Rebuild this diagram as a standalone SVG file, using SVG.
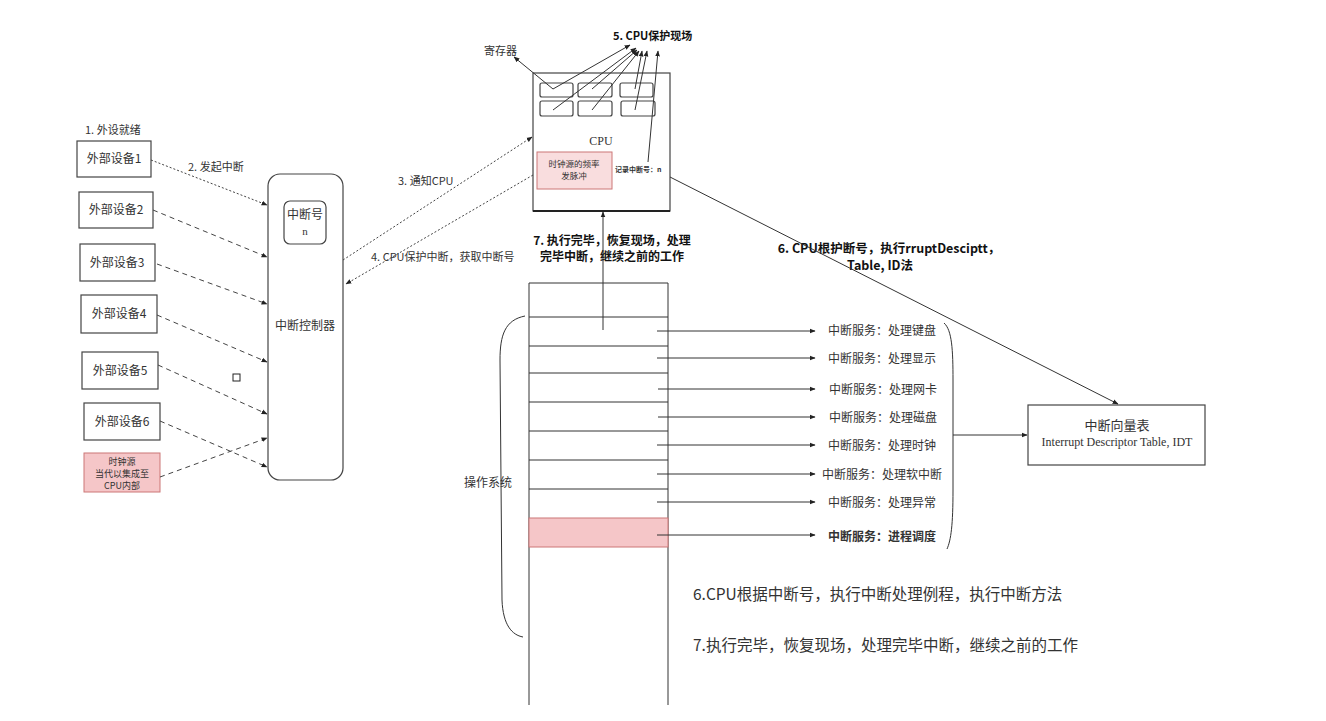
<svg xmlns="http://www.w3.org/2000/svg" width="1326" height="721" viewBox="0 0 1326 721">
<style>
text{font-family:"Noto Sans CJK SC","Liberation Sans",sans-serif;fill:#333;}
text.serif{font-family:"Liberation Serif","Noto Sans CJK SC",serif;}
.box{fill:#fff;stroke:#444;stroke-width:1.2;}
.pink{fill:#f5c6c8;stroke:#c77;stroke-width:1;}
.ln{fill:none;stroke:#333;stroke-width:1;}
.dot{fill:none;stroke:#444;stroke-width:1;stroke-dasharray:2,2;}
.dash{fill:none;stroke:#444;stroke-width:1;stroke-dasharray:5,4;}
.t12{font-size:12px;}
.t11{font-size:11px;}
.b{font-weight:bold;fill:#111;}
</style>
<defs>
<marker id="ah" viewBox="0 0 10 10" refX="9" refY="5" markerWidth="6" markerHeight="6" orient="auto"><path d="M0,1 L10,5 L0,9 z" fill="#222"/></marker>
</defs>
<rect width="1326" height="721" fill="#fff"/>

<g id="step1"><text x="85" y="134" class="t11">1. 外设就绪</text></g>
<g id="dev1"><rect class="box" x="77" y="141" width="74" height="36"/><text x="114" y="163" class="t12" text-anchor="middle">外部设备1</text></g>
<g id="dev2"><rect class="box" x="79" y="192" width="74" height="36"/><text x="116" y="214" class="t12" text-anchor="middle">外部设备2</text></g>
<g id="dev3"><rect class="box" x="80" y="244" width="75" height="37"/><text x="117" y="267" class="t12" text-anchor="middle">外部设备3</text></g>
<g id="dev4"><rect class="box" x="81" y="295" width="76" height="38"/><text x="119" y="318" class="t12" text-anchor="middle">外部设备4</text></g>
<g id="dev5"><rect class="box" x="82" y="352" width="76" height="37"/><text x="120" y="375" class="t12" text-anchor="middle">外部设备5</text></g>
<g id="dev6"><rect class="box" x="84" y="403" width="76" height="37"/><text x="122" y="426" class="t12" text-anchor="middle">外部设备6</text></g>
<g id="clock"><rect class="pink" x="84" y="453" width="76" height="39"/>
<text x="122" y="465" font-size="9" text-anchor="middle">时钟源</text>
<text x="122" y="477" font-size="9" text-anchor="middle">当代以集成至</text>
<text x="122" y="489" font-size="9" text-anchor="middle">CPU内部</text></g>
<g id="smallsq"><rect x="233" y="374" width="7" height="7" fill="none" stroke="#222" stroke-width="1"/></g>

<g id="controller">
<rect class="box" x="268" y="174" width="75" height="306" rx="12"/>
<rect class="box" x="284" y="201" width="42" height="43" rx="6"/>
<text x="305" y="219" class="t12" text-anchor="middle">中断号</text>
<text x="305" y="235" font-size="11" class="serif" text-anchor="middle">n</text>
<text x="305" y="330" class="t12" text-anchor="middle">中断控制器</text>
</g>

<g id="cpu">
<rect class="box" x="533" y="73" width="137" height="138"/>
<line x1="533" y1="211" x2="670" y2="211" stroke="#222" stroke-width="2"/>
<rect class="box" x="540" y="83" width="33" height="14" rx="2"/>
<rect class="box" x="578" y="83" width="34" height="14" rx="2"/>
<rect class="box" x="620" y="83" width="33" height="14" rx="2"/>
<rect class="box" x="540" y="101" width="33" height="15" rx="2"/>
<rect class="box" x="578" y="101" width="34" height="15" rx="2"/>
<rect class="box" x="621" y="101" width="34" height="15" rx="2"/>
<text x="601" y="145" font-size="12" class="serif" text-anchor="middle">CPU</text>
<rect class="pink" x="537" y="152" width="75" height="37" fill-opacity="0.6"/>
<text x="574" y="167" font-size="8.5" text-anchor="middle">时钟源的频率</text>
<text x="574" y="179" font-size="8.5" text-anchor="middle">发脉冲</text>
<text x="615" y="172" font-size="7" font-weight="bold">记录中断号：n</text>
</g>

<g id="labels-top">
<text x="484" y="55" class="t11">寄存器</text>
<text x="613" y="40" font-size="11" class="b">5. CPU保护现场</text>
</g>

<g id="os">
<path class="ln" d="M529,705 L529,283 L668,283 L668,705" stroke-width="1.2"/>
<rect class="pink" x="529" y="518" width="139" height="29" stroke="#c77"/>
<line class="ln" x1="529" y1="317" x2="668" y2="317"/>
<line class="ln" x1="529" y1="346" x2="668" y2="346"/>
<line class="ln" x1="529" y1="373" x2="668" y2="373"/>
<line class="ln" x1="529" y1="402" x2="668" y2="402"/>
<line class="ln" x1="529" y1="431" x2="668" y2="431"/>
<line class="ln" x1="529" y1="460" x2="668" y2="460"/>
<line class="ln" x1="529" y1="489" x2="668" y2="489"/>
<text x="488" y="487" class="t12" text-anchor="middle">操作系统</text>
<path class="ln" d="M525,316 C505,320 500,335 500,360 L502,600 C503,625 512,635 523,637"/>
</g>

<g id="services" class="t12">
<text x="828" y="335">中断服务：处理键盘</text>
<text x="828" y="363">中断服务：处理显示</text>
<text x="829" y="394">中断服务：处理网卡</text>
<text x="829" y="422">中断服务：处理磁盘</text>
<text x="828" y="450">中断服务：处理时钟</text>
<text x="822" y="479">中断服务：处理软中断</text>
<text x="828" y="507">中断服务：处理异常</text>
<text x="828" y="541" font-weight="bold" fill="#111">中断服务：进程调度</text>
<path class="ln" d="M944,323 C952,330 953,350 953,380 L953,490 C953,525 951,540 947,549"/>
</g>

<g id="idt">
<rect class="box" x="1028" y="405" width="177" height="60"/>
<text x="1117" y="430" font-size="13" text-anchor="middle">中断向量表</text>
<text x="1117" y="446" font-size="12" class="serif" text-anchor="middle">Interrupt Descriptor Table,  IDT</text>
</g>

<g id="notes">
<text x="398" y="185" class="t11">3. 通知CPU</text>
<text x="371" y="261" class="t11">4. CPU保护中断，获取中断号</text>
<text x="188" y="171" class="t11">2. 发起中断</text>
<text x="612" y="245" font-size="12" class="b" text-anchor="middle">7. 执行完毕，恢复现场，处理</text>
<text x="612" y="261" font-size="12" class="b" text-anchor="middle">完毕中断，继续之前的工作</text>
<text x="889" y="253" font-size="12.5" class="b" text-anchor="middle">6. CPU根护断号，执行rruptDesciptt，</text>
<text x="880" y="270" font-size="12.5" class="b" text-anchor="middle">Table, ID法</text>
<text x="693" y="600" font-size="15.5" fill="#111">6.CPU根据中断号，执行中断处理例程，执行中断方法</text>
<text x="693" y="651" font-size="15.5" fill="#111">7.执行完毕，恢复现场，处理完毕中断，继续之前的工作</text>
</g>

<g id="connectors">
<line class="dot" x1="151" y1="160" x2="267" y2="205" marker-end="url(#ah)"/>
<line class="dash" x1="153" y1="210" x2="267" y2="257" marker-end="url(#ah)"/>
<line class="dash" x1="157" y1="264" x2="267" y2="304" marker-end="url(#ah)"/>
<line class="dash" x1="157" y1="315" x2="267" y2="362" marker-end="url(#ah)"/>
<line class="dash" x1="158" y1="365" x2="267" y2="414" marker-end="url(#ah)"/>
<line class="dash" x1="160" y1="421" x2="267" y2="467" marker-end="url(#ah)"/>
<line class="dash" x1="160" y1="477" x2="267" y2="438" marker-end="url(#ah)"/>
<line class="dot" x1="343" y1="260" x2="532" y2="137" marker-end="url(#ah)"/>
<line class="dot" x1="533" y1="175" x2="346" y2="284" marker-end="url(#ah)"/>
<line class="ln" x1="553" y1="89" x2="514" y2="57" marker-end="url(#ah)"/>
<line class="ln" x1="553" y1="89" x2="630" y2="45" marker-end="url(#ah)"/>
<line class="ln" x1="553" y1="110" x2="636" y2="48" marker-end="url(#ah)"/>
<line class="ln" x1="592" y1="89" x2="637" y2="50" marker-end="url(#ah)"/>
<line class="ln" x1="592" y1="110" x2="639" y2="51" marker-end="url(#ah)"/>
<line class="ln" x1="635" y1="89" x2="642" y2="51" marker-end="url(#ah)"/>
<line class="ln" x1="635" y1="110" x2="647" y2="51" marker-end="url(#ah)"/>
<line class="ln" x1="648" y1="162" x2="658" y2="51" marker-end="url(#ah)"/>
<line class="ln" x1="603" y1="330" x2="603" y2="212" marker-end="url(#ah)"/>
<line class="ln" x1="670" y1="177" x2="1118" y2="404" marker-end="url(#ah)"/>
<line class="ln" x1="657" y1="331" x2="815" y2="331" marker-end="url(#ah)"/>
<line class="ln" x1="657" y1="358" x2="815" y2="358" marker-end="url(#ah)"/>
<line class="ln" x1="658" y1="389" x2="815" y2="389" marker-end="url(#ah)"/>
<line class="ln" x1="658" y1="417" x2="815" y2="417" marker-end="url(#ah)"/>
<line class="ln" x1="657" y1="445" x2="815" y2="445" marker-end="url(#ah)"/>
<line class="ln" x1="657" y1="474" x2="815" y2="474" marker-end="url(#ah)"/>
<line class="ln" x1="657" y1="502" x2="815" y2="502" marker-end="url(#ah)"/>
<line class="ln" x1="657" y1="535" x2="815" y2="535" marker-end="url(#ah)"/>
<line class="ln" x1="953" y1="435" x2="1027" y2="435" marker-end="url(#ah)"/>
</g>
</svg>
